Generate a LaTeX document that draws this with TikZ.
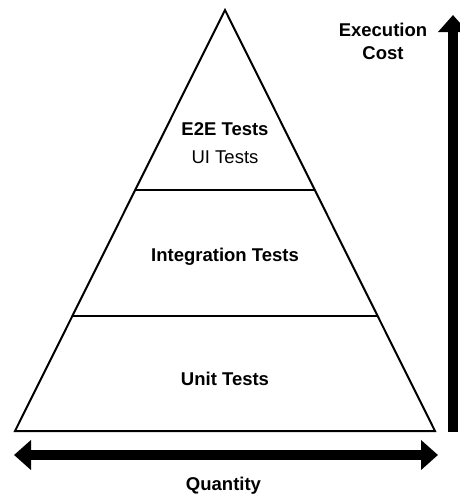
\documentclass[tikz,border=0pt]{standalone}
\usepackage{fontspec}
\setmainfont{Liberation Sans}
\usetikzlibrary{arrows.meta}
\begin{document}
\begin{tikzpicture}[x=1pt,y=-1pt,
  edgeline/.style={line width=2pt, line join=miter},
  bigarrow/.style={line width=10pt, -{Triangle[length=17pt,width=29pt]}},
  bigarrowboth/.style={line width=10pt, {Triangle[length=17pt,width=29pt]}-{Triangle[length=17pt,width=29pt]}},
  lbl/.style={font=\fontsize{18.5}{22.5}\selectfont\bfseries, inner sep=0pt, anchor=base},
  sublbl/.style={font=\fontsize{18.5}{22.5}\selectfont, inner sep=0pt, anchor=base}]
\useasboundingbox (0,0) rectangle (459,496);
\coordinate (apex) at (225,10);
\coordinate (bl) at (15,431);
\coordinate (br) at (435,431);
\draw[edgeline] (apex) -- (br) -- (bl) -- cycle;
\path (apex) -- (bl) coordinate[pos=0.4275] (s1l) coordinate[pos=0.7268] (s2l);
\path (apex) -- (br) coordinate[pos=0.4275] (s1r) coordinate[pos=0.7268] (s2r);
\draw[edgeline] (s1l) -- (s1r);
\draw[edgeline] (s2l) -- (s2r);
\node[lbl] (e2e) at (225,135) {E2E Tests};
\node[sublbl] (ui) at (225,163.5) {UI Tests};
\node[lbl] (integ) at (225,261) {Integration Tests};
\node[lbl] (unit) at (225,385) {Unit Tests};
\coordinate (vbot) at (453,432);
\coordinate (vtop) at (453,15);
\draw[bigarrow] (vbot) -- (vtop);
\coordinate (hl) at (14,455);
\coordinate (hr) at (438,455);
\draw[bigarrowboth] (hl) -- (hr);
\node[lbl] (cost1) at (383,36.5) {Execution};
\node[lbl] (cost2) at (383,59) {Cost};
\node[lbl] (qty) at (223.5,490) {Quantity};
\end{tikzpicture}
\end{document}
